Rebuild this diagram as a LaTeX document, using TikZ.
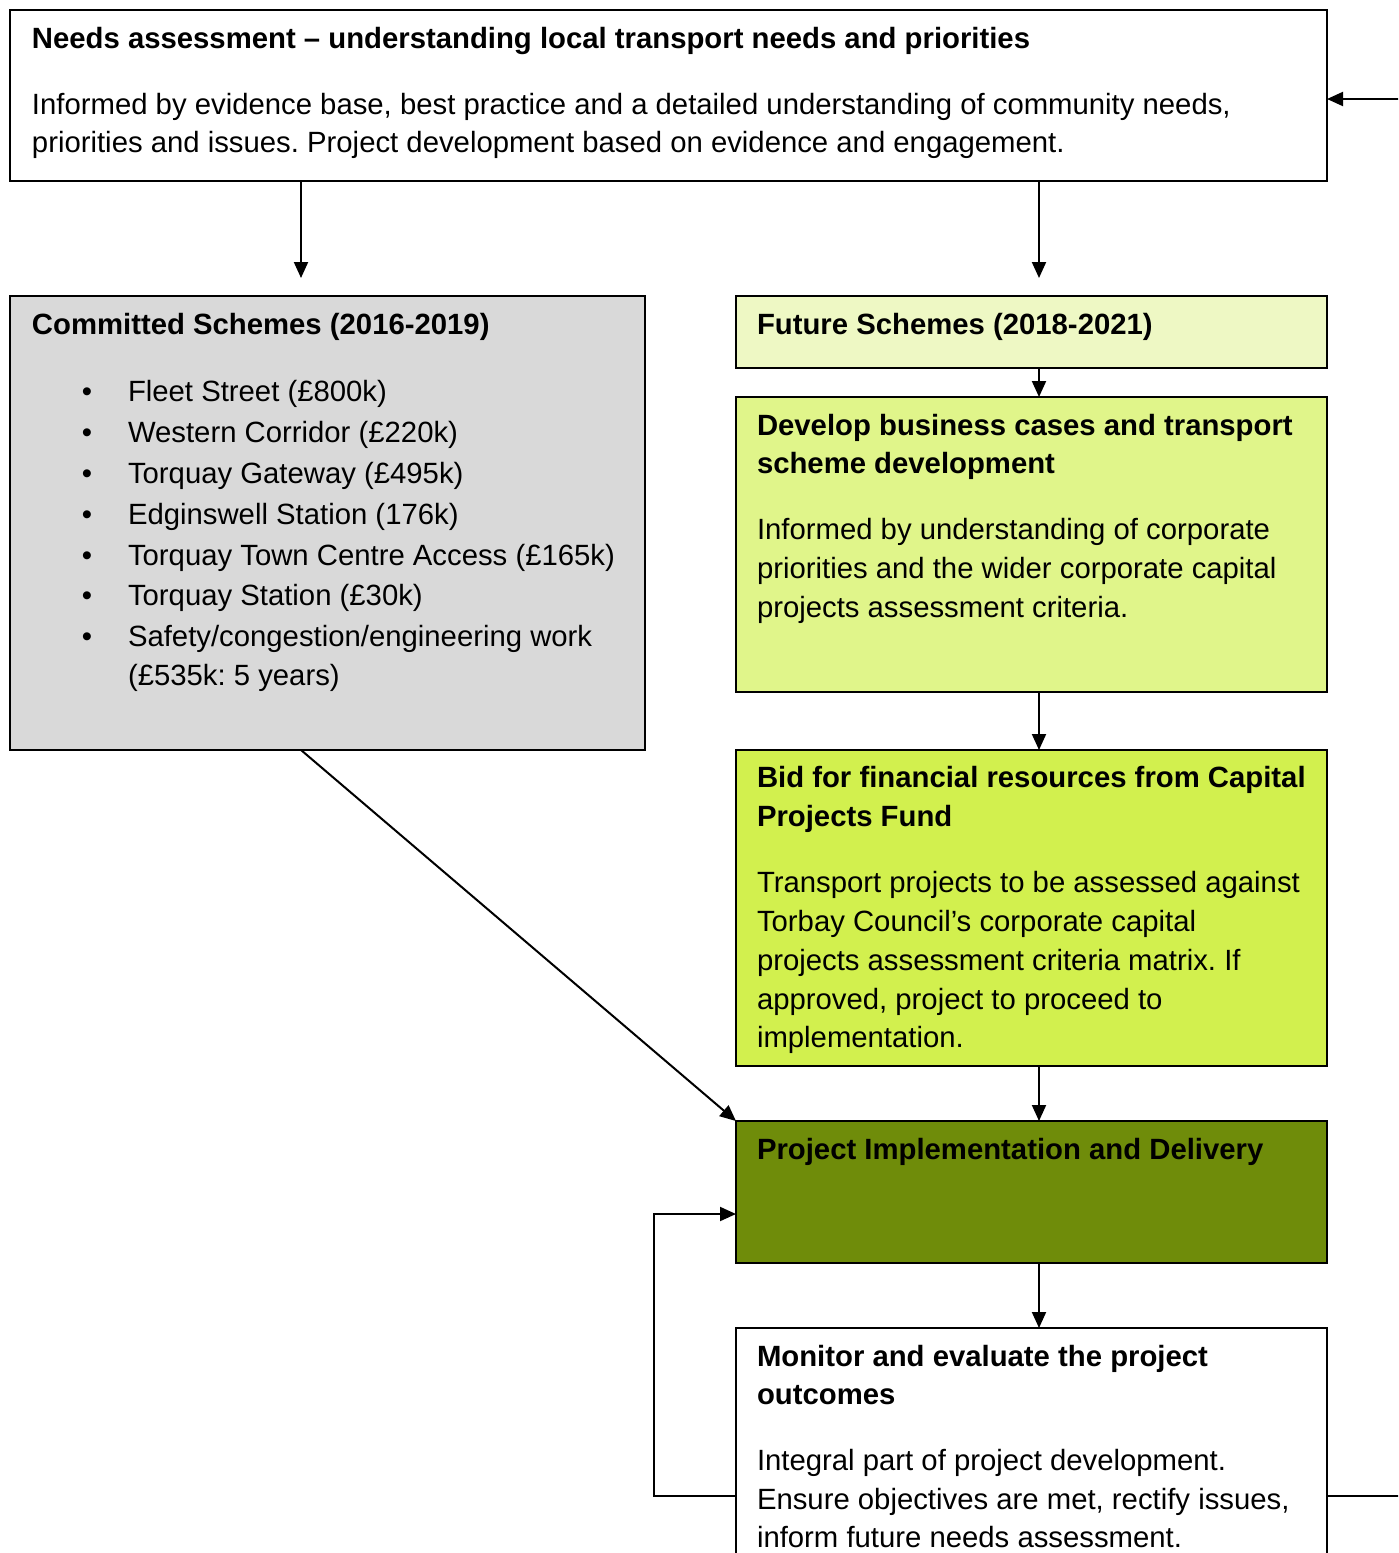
\documentclass[tikz,border=0pt]{standalone}
\usepackage{fontspec}
\setmainfont{Liberation Sans}
\frenchspacing
\usetikzlibrary{arrows.meta,calc}
\definecolor{cgray}{HTML}{D9D9D9}
\definecolor{cfuture}{HTML}{EEF8C4}
\definecolor{cdevelop}{HTML}{E0F58A}
\definecolor{cbid}{HTML}{D2F04E}
\definecolor{cproject}{HTML}{6F8C0A}
\tikzset{
  box/.style={draw=black, line width=1pt, rectangle, anchor=north west, inner sep=0pt, outer sep=0pt},
  txt/.style={anchor=base west, inner sep=0pt, outer sep=0pt, font=\fontsize{14.65pt}{19.5pt}\selectfont},
  ttl/.style={txt, font=\fontsize{14.65pt}{19.5pt}\selectfont\bfseries},
  bul/.style={anchor=base, inner sep=0pt, outer sep=0pt, font=\fontsize{14.65pt}{19.5pt}\selectfont},
  arr/.style={line width=1pt, -{Triangle[length=8pt,width=7pt]}},
  ln/.style={line width=1pt}
}
\begin{document}
\begin{tikzpicture}[x=0.5pt,y=-0.5pt]
\useasboundingbox (0,0) rectangle (1398,1553);
\clip (0,0) rectangle (1398,1553);
% boxes
\node[box, minimum width=658.5pt, minimum height=85.5pt] (needs) at (10,10) {};
\node[box, fill=cgray, minimum width=317.5pt, minimum height=227pt] (committed) at (10,296) {};
\node[box, fill=cfuture, minimum width=295.5pt, minimum height=36pt] (future) at (736,296) {};
\node[box, fill=cdevelop, minimum width=295.5pt, minimum height=147.5pt] (develop) at (736,397) {};
\node[box, fill=cbid, minimum width=295.5pt, minimum height=158pt] (bid) at (736,750) {};
\node[box, fill=cproject, minimum width=295.5pt, minimum height=71pt] (project) at (736,1121) {};
\node[box, fill=white, minimum width=295.5pt, minimum height=150pt] (monitor) at (736,1328) {};
% texts: needs
\node[ttl] (t1) at (32,48) {Needs assessment – understanding local transport needs and priorities};
\node[txt] (t2) at (32,114) {Informed by evidence base, best practice and a detailed understanding of community needs,};
\node[txt] (t3) at (32,152) {priorities and issues. Project development based on evidence and engagement.};
% committed
\node[ttl] (c0) at (32,334) {Committed Schemes (2016-2019)};
\node[bul] (b1) at (87,401) {•};
\node[txt] (c1) at (128,401) {Fleet Street (£800k)};
\node[bul] (b2) at (87,442) {•};
\node[txt] (c2) at (128,442) {Western Corridor (£220k)};
\node[bul] (b3) at (87,483) {•};
\node[txt] (c3) at (128,483) {Torquay Gateway (£495k)};
\node[bul] (b4) at (87,524) {•};
\node[txt] (c4) at (128,524) {Edginswell Station (176k)};
\node[bul] (b5) at (87,565) {•};
\node[txt] (c5) at (128,565) {Torquay Town Centre Access (£165k)};
\node[bul] (b6) at (87,605) {•};
\node[txt] (c6) at (128,605) {Torquay Station (£30k)};
\node[bul] (b7) at (87,646) {•};
\node[txt] (c7) at (128,646) {Safety/congestion/engineering work};
\node[txt] (c8) at (128,685) {(£535k: 5 years)};
% future
\node[ttl] (f0) at (757,334) {Future Schemes (2018-2021)};
% develop
\node[ttl] (d1) at (757,435) {Develop business cases and transport};
\node[ttl] (d2) at (757,473) {scheme development};
\node[txt] (d3) at (757,539) {Informed by understanding of corporate};
\node[txt] (d4) at (757,578) {priorities and the wider corporate capital};
\node[txt] (d5) at (757,617) {projects assessment criteria.};
% bid
\node[ttl] (e1) at (757,787) {Bid for financial resources from Capital};
\node[ttl] (e2) at (757,826) {Projects Fund};
\node[txt] (e3) at (757,892) {Transport projects to be assessed against};
\node[txt] (e4) at (757,931) {Torbay Council’s corporate capital};
\node[txt] (e5) at (757,970) {projects assessment criteria matrix. If};
\node[txt] (e6) at (757,1009) {approved, project to proceed to};
\node[txt] (e7) at (757,1047) {implementation.};
% project
\node[ttl] (p1) at (757,1159) {Project Implementation and Delivery};
% monitor
\node[ttl] (m1) at (757,1366) {Monitor and evaluate the project};
\node[ttl] (m2) at (757,1404) {outcomes};
\node[txt] (m3) at (757,1470) {Integral part of project development.};
\node[txt] (m4) at (757,1509) {Ensure objectives are met, rectify issues,};
\node[txt] (m5) at (757,1547) {inform future needs assessment.};
% connectors
\draw[arr, shorten >=9pt] ($(needs.south west)+(291,0)$) -- ($(committed.north west)+(291,0)$);
\draw[arr, shorten >=9pt] ($(needs.south west)+(1029,0)$) -- ($(future.north west)+(303,0)$);
\draw[arr] ($(future.south west)+(303,0)$) -- ($(develop.north west)+(303,0)$);
\draw[arr] ($(develop.south west)+(303,0)$) -- ($(bid.north west)+(303,0)$);
\draw[arr] ($(bid.south west)+(303,0)$) -- ($(project.north west)+(303,0)$);
\draw[arr] ($(project.south west)+(303,0)$) -- ($(monitor.north west)+(303,0)$);
\draw[arr] ($(committed.south west)+(291,0)$) -- (project.north west);
\draw[arr] ($(monitor.north west)+(0,168)$) -- ++(-82,0) |- ($(project.north west)+(0,93)$);
\draw[arr] ($(monitor.north east)+(0,168)$) -- ++(100,0) |- ($(needs.north east)+(0,89)$);
\end{tikzpicture}
\end{document}
